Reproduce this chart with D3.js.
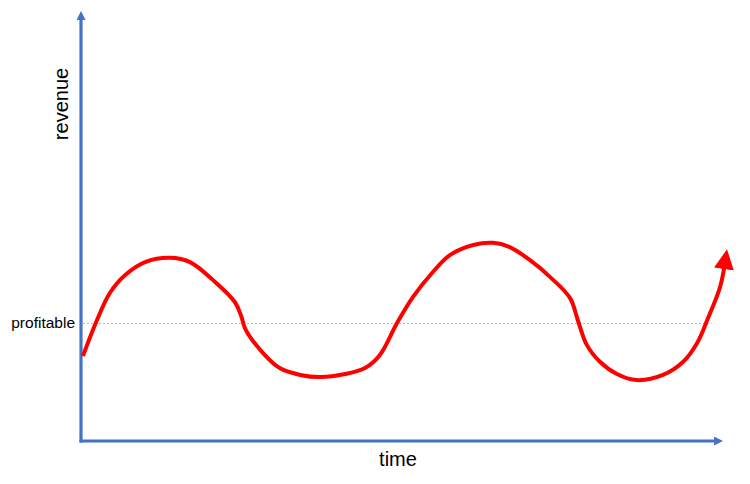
<!DOCTYPE html>
<html>
<head>
<meta charset="utf-8">
<script src="https://cdn.jsdelivr.net/npm/d3@7"></script>
<style>
  html, body { margin: 0; padding: 0; background: #fff; }
  svg { display: block; font-family: "Liberation Sans", Arial, sans-serif; }
</style>
</head>
<body>
<svg id="chart" width="750" height="484"></svg>
<script>
// ---- data (time in arbitrary units 0..100, revenue in arbitrary units 0..100) ----
const times = [0.3, 2.5, 4.5, 6.9, 10.0, 13.9, 17.0, 20.6, 24.0, 25.0, 25.7, 28.4, 31.0, 34.2, 37.3, 41.2, 44.3, 46.6, 49.3, 51.8, 54.9, 57.6, 61.2, 64.3, 66.9, 70.0, 73.2, 76.3, 77.5, 78.9, 81.0, 83.6, 86.7, 90.8, 93.9, 96.1, 97.7, 99.7, 100.4];
const revenue = [19.8, 28.2, 34.5, 38.7, 41.7, 42.7, 41.7, 37.5, 32.4, 29.1, 25.9, 20.5, 17.0, 15.4, 14.9, 15.6, 17.0, 20.0, 27.5, 33.6, 39.4, 43.4, 45.7, 46.2, 45.2, 42.2, 38.2, 33.3, 28.2, 22.4, 18.4, 15.6, 14.2, 15.4, 18.4, 22.8, 28.2, 35.9, 41.0];
const profitableLevel = 27.5;
const labels = { x: "time", y: "revenue", threshold: "profitable" };

const svg = d3.select("#chart");
const axisColor = "#4472C4";

const x = d3.scaleLinear().domain([0, 100]).range([81, 722]);
const y = d3.scaleLinear().domain([0, 100]).range([441, 12]);

const defs = svg.append("defs");
defs.append("marker")
  .attr("id", "axisArrow")
  .attr("markerUnits", "userSpaceOnUse")
  .attr("markerWidth", 12).attr("markerHeight", 12)
  .attr("viewBox", "0 0 12 12")
  .attr("refX", 2).attr("refY", 4.5)
  .attr("orient", "auto")
  .append("path").attr("d", "M0,0 L9,4.5 L0,9 Z").attr("fill", axisColor);

defs.append("marker")
  .attr("id", "redArrow")
  .attr("markerUnits", "userSpaceOnUse")
  .attr("markerWidth", 26).attr("markerHeight", 26)
  .attr("viewBox", "0 0 26 26")
  .attr("refX", 4).attr("refY", 10)
  .attr("orient", "auto")
  .append("path").attr("d", "M0,0 L20,10 L0,20 Z").attr("fill", "#FF0000");

// threshold dotted line
svg.append("line")
  .attr("x1", x(0) + 2).attr("x2", x(98.5))
  .attr("y1", Math.round(y(profitableLevel)) + 0.5)
  .attr("y2", Math.round(y(profitableLevel)) + 0.5)
  .attr("stroke", "#BDBDBD").attr("stroke-width", 1)
  .attr("stroke-dasharray", "2,2");

// axes (no ticks): lines derived from the scales, ending short so arrow tips land at the edges
const axisEndX = x.range()[1] - 6;
const axisEndY = y.range()[1] + 6;
svg.append("line")
  .attr("x1", x(0) - 1.5).attr("x2", axisEndX)
  .attr("y1", y(0)).attr("y2", y(0))
  .attr("stroke", axisColor).attr("stroke-width", 3.2)
  .attr("marker-end", "url(#axisArrow)");
svg.append("line")
  .attr("x1", x(0)).attr("x2", x(0))
  .attr("y1", y(0) + 1.6).attr("y2", axisEndY)
  .attr("stroke", axisColor).attr("stroke-width", 3.2)
  .attr("marker-end", "url(#axisArrow)");

// revenue curve
const line = d3.line()
  .x((d, i) => x(times[i]))
  .y(d => y(d))
  .curve(d3.curveCatmullRom.alpha(0.5));

svg.append("path")
  .attr("d", line(revenue))
  .attr("fill", "none")
  .attr("stroke", "#FF0000")
  .attr("stroke-width", 4)
  .attr("stroke-linejoin", "round")
  .attr("marker-end", "url(#redArrow)");

// labels
svg.append("text")
  .attr("x", 398).attr("y", 466)
  .attr("text-anchor", "middle")
  .attr("font-size", 20).attr("fill", "#000")
  .text(labels.x);

svg.append("text")
  .attr("transform", `translate(67.5,${104}) rotate(-90)`)
  .attr("text-anchor", "middle")
  .attr("font-size", 20).attr("fill", "#000")
  .text(labels.y);

svg.append("text")
  .attr("x", 75).attr("y", 328)
  .attr("text-anchor", "end")
  .attr("font-size", 15.5).attr("fill", "#000")
  .text(labels.threshold);
</script>
</body>
</html>
